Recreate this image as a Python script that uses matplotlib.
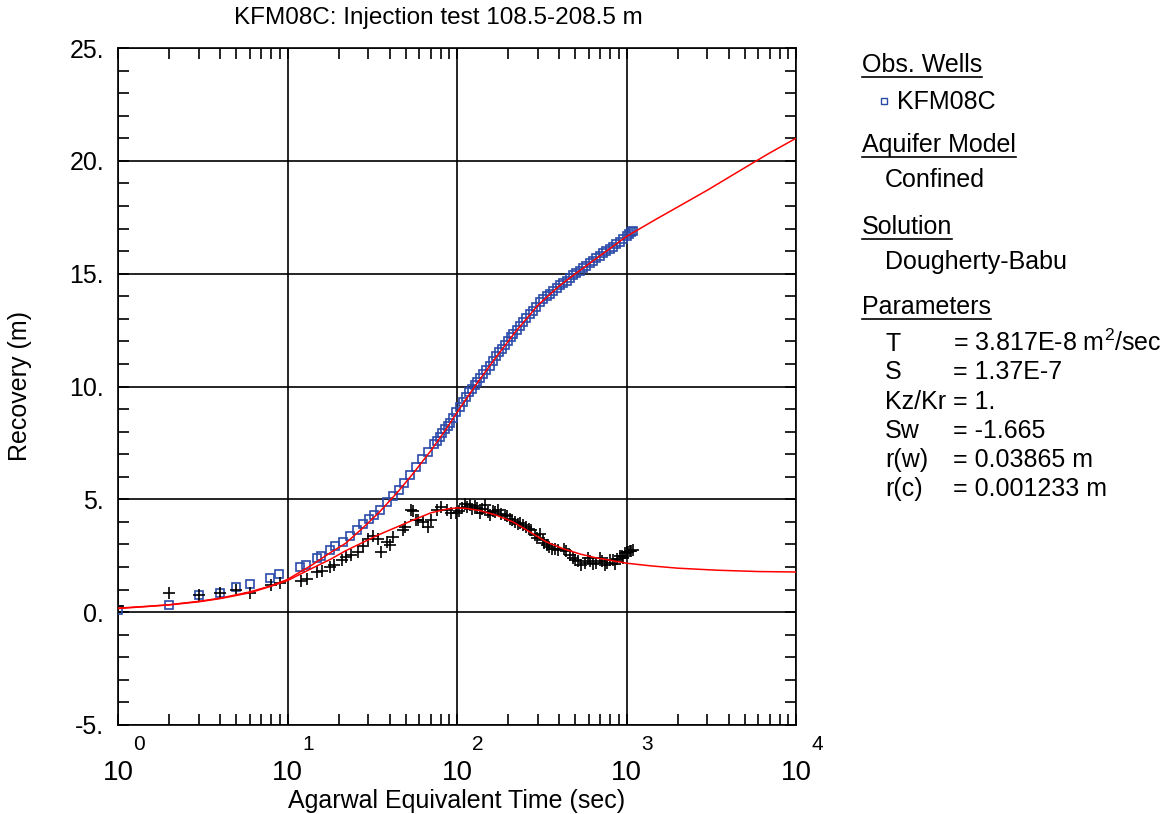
import numpy as np
import matplotlib
matplotlib.use("Agg")
import matplotlib.pyplot as plt
from matplotlib.ticker import FixedLocator, FixedFormatter, LogLocator, MultipleLocator, NullFormatter

plt.rcParams['font.family'] = ['Liberation Sans', 'DejaVu Sans']
plt.rcParams['mathtext.fontset'] = 'custom'
plt.rcParams['mathtext.rm'] = 'Liberation Sans'
plt.rcParams['mathtext.it'] = 'Liberation Sans:italic'
plt.rcParams['mathtext.bf'] = 'Liberation Sans:bold'

# ---------------- data ----------------
title = "KFM08C: Injection test 108.5-208.5 m"
x_label = "Agarwal Equivalent Time (sec)"
y_label = "Recovery (m)"

# observed recovery (blue squares)
t_rec = [1.0, 2.0, 3.0, 4.0, 5.0, 6.0, 7.9, 8.9, 11.9, 12.8, 15.0, 15.8, 17.8, 19.1, 21.3, 23.3,
         25.8, 28.0, 30.4, 32.4, 35.0, 38.8, 42.0, 45.5, 49.0, 53.0, 57.5, 62.5, 67.7, 73.0, 76,
         79, 82, 85, 88, 91, 95, 99, 104, 108, 113, 118, 122, 127, 132, 137, 143, 149, 156, 164,
         171, 178, 184, 191, 199, 207, 215, 225, 236, 246, 257, 268, 280, 293, 308, 322, 338, 353,
         370, 387, 405, 424, 443, 463, 485, 507, 530, 555, 580, 607, 635, 664, 695, 727, 760, 795,
         832, 870, 910, 952, 1000, 1040, 1070, 1090]
rec = [0.1, 0.3, 0.74, 0.87, 1.1, 1.27, 1.52, 1.67, 2.0, 2.1, 2.39, 2.5, 2.77, 2.92, 3.13, 3.39,
       3.64, 3.9, 4.13, 4.3, 4.54, 4.88, 5.15, 5.43, 5.72, 6.06, 6.43, 6.77, 7.1, 7.45, 7.6,
       7.78, 7.95, 8.1, 8.25, 8.4, 8.62, 8.85, 9.1, 9.3, 9.55, 9.75, 9.9, 10.05, 10.22, 10.38, 10.56,
       10.74, 10.93, 11.15, 11.33, 11.52, 11.68, 11.85, 12.0, 12.18, 12.33, 12.5, 12.7, 12.87, 13.03,
       13.2, 13.36, 13.53, 13.73, 13.86, 14.0, 14.12, 14.25, 14.37, 14.48, 14.58, 14.69, 14.8, 14.92,
       15.03, 15.13, 15.25, 15.35, 15.47, 15.58, 15.68, 15.79, 15.9, 16.0, 16.1, 16.2, 16.31, 16.42,
       16.55, 16.68, 16.77, 16.84, 16.9]

# derivative (black plus)
t_der = [1.0, 2.0, 3.0, 4.0, 5.0, 6.0, 8.0, 9.0, 12, 13, 15, 15.9, 17.9, 18.8, 21, 22, 23.6, 26, 28,
         29.9, 31.8, 34.3, 35.4, 38.8, 40.2, 42, 48, 49.2, 53.5, 55, 57, 59, 63, 67.5, 70.5, 76, 81,
         87, 92.6, 98, 103, 107, 111, 115, 119, 123, 127, 132, 137, 141, 146, 152, 157, 162, 167, 175,
         183, 191, 198, 205, 212, 220, 230, 235, 245, 257, 265, 275, 288, 298, 308, 320, 328, 338, 350,
         362, 380, 397, 425, 440, 463, 484, 500, 520, 542, 570, 594, 610, 636, 660, 696, 720, 745, 770,
         797, 830, 854, 880, 915, 940, 958, 980, 1000, 1020, 1050, 1070, 1090]
der = [0.27, 0.83, 0.77, 0.85, 0.97, 0.87, 1.22, 1.3, 1.4, 1.45, 1.78, 1.83, 2.0, 2.08, 2.33, 2.45,
       2.52, 2.67, 2.95, 3.26, 3.36, 3.26, 2.67, 3.11, 2.96, 3.33, 3.62, 3.77, 4.51, 4.48, 4.07, 4.07,
       4.0, 3.77, 4.07, 4.51, 4.68, 4.54, 4.4, 4.39, 4.48, 4.6, 4.81, 4.65, 4.73, 4.55, 4.69, 4.6,
       4.39, 4.55, 4.73, 4.45, 4.29, 4.5, 4.44, 4.54, 4.35, 4.29, 4.25, 4.15, 4.1, 4.0, 3.9, 3.95,
       3.85, 3.77, 3.7, 3.63, 3.41, 3.3, 3.45, 3.2, 3.05, 2.96, 2.9, 2.82, 2.8, 2.74, 2.82, 2.7, 2.52,
       2.38, 2.3, 2.25, 2.08, 2.2, 2.38, 2.25, 2.15, 2.2, 2.38, 2.25, 2.08, 2.2, 2.3, 2.3, 2.15, 2.35,
       2.48, 2.5, 2.38, 2.6, 2.67, 2.65, 2.71, 2.72, 2.74]

# fitted model (red lines)
t_mod = [1, 1.5, 2, 3, 4, 5, 6, 8, 10, 14, 18, 22, 28, 35, 45, 55, 70, 87, 100, 130, 170, 220,
         300, 400, 500, 700, 1000, 1500, 2000, 3000, 5000, 7000, 10000]
mod_rec = [0.18, 0.26, 0.33, 0.48, 0.62, 0.77, 0.9, 1.17, 1.45, 2.1, 2.65, 3.05, 3.75, 4.45, 5.35,
           6.14, 7.15, 8.15, 8.85, 10.1, 11.3, 12.4, 13.6, 14.45, 15.0, 15.8, 16.65, 17.42, 17.95,
           18.7, 19.7, 20.35, 21.0]
t_mder = [1, 2, 3, 4, 6, 8, 10, 14, 18, 22, 28, 35, 45, 55, 70, 87, 100, 113, 137, 170, 214, 270,
          337, 420, 530, 650, 830, 1000, 1400, 2000, 3400, 6000, 10000]
mod_der = [0.16, 0.32, 0.46, 0.6, 0.86, 1.15, 1.4, 1.95, 2.35, 2.72, 3.1, 3.45, 3.8, 4.08, 4.4,
           4.57, 4.62, 4.6, 4.5, 4.3, 4.0, 3.55, 3.11, 2.82, 2.58, 2.42, 2.28, 2.17, 2.05, 1.95,
           1.86, 1.8, 1.78]

y_ticks = [-5, 0, 5, 10, 15, 20, 25]
x_ticks = [1, 10, 100, 1000, 10000]
x_tick_exponents = ["0", "1", "2", "3", "4"]

legend_headers = ["Obs. Wells", "Aquifer Model", "Solution", "Parameters"]
well_name = "KFM08C"
model_name = "Confined"
solution_name = "Dougherty-Babu"
param_names = ["T", "S", "Kz/Kr", "Sw", "r(w)", "r(c)"]
param_values = [r"= 3.817E-8 m$^{\mathregular{2}}$/sec", "= 1.37E-7", "= 1.", "= -1.665",
                "= 0.03865 m", "= 0.001233 m"]

# ---------------- figure ----------------
W, H = 1173, 814
fig = plt.figure(figsize=(W / 100, H / 100), dpi=100)
ax = fig.add_axes([118 / W, 1 - 725 / H, (796 - 118) / W, (725 - 48) / H])


def fx(px):
    return px / W


def fy(py):
    return 1 - py / H


blue = '#2a4aa8'
ax.plot(t_mod, mod_rec, color='#ff0000', lw=1.1, zorder=4)
ax.plot(t_mder, mod_der, color='#ff0000', lw=1.1, zorder=4)
ax.plot(t_rec, rec, ls='none', marker='s', ms=6, mfc='none', mec=blue, mew=1.2, zorder=3)
ax.plot(t_der, der, ls='none', marker='+', ms=8.5, color='black', mew=1.2, zorder=3)

ax.set_xscale('log')
ax.set_xlim(1, 10000)
ax.set_ylim(-5, 25)
ax.xaxis.set_major_locator(FixedLocator(x_ticks))
ax.xaxis.set_major_formatter(NullFormatter())
ax.xaxis.set_minor_locator(LogLocator(base=10, subs=np.arange(2, 10)))
ax.xaxis.set_minor_formatter(NullFormatter())
ax.yaxis.set_major_locator(FixedLocator(y_ticks))
ax.yaxis.set_major_formatter(FixedFormatter([f"{v}." for v in y_ticks]))
ax.yaxis.set_minor_locator(MultipleLocator(1))

ax.grid(True, which='major', color='black', lw=1.2)
for s in ax.spines.values():
    s.set_linewidth(1.2)
ax.tick_params(which='both', direction='in', top=True, right=True, width=1.2, colors='black')
ax.tick_params(which='major', length=8)
ax.tick_params(which='minor', length=8)
ax.tick_params(axis='y', labelsize=18, pad=10)

# x tick labels as base "10" with raised exponent
fig.canvas.draw()
for t, e in zip(x_ticks, x_tick_exponents):
    xpix = ax.transData.transform((t, 0))[0]
    fig.text(fx(xpix), fy(780), "10", fontsize=20, ha='center', va='baseline')
    fig.text(fx(xpix + 15), fy(750), e, fontsize=15, ha='left', va='baseline')

fig.text(fx(457), fy(801), x_label, fontsize=18, ha='center', va='center')
fig.text(fx(20), fy(386), y_label, fontsize=18, ha='center', va='center', rotation=90)
fig.text(fx(438), fy(18), title, fontsize=17.5, ha='center', va='center')

# ---------------- legend panel ----------------
hx, ix, ex = 862, 885, 953
header_y = [72, 152, 234, 314]
header_texts = []
for txt, by in zip(legend_headers, header_y):
    header_texts.append(fig.text(fx(hx), fy(by), txt, fontsize=18, va='baseline', ha='left'))

fig.text(fx(897), fy(109), well_name, fontsize=18, va='baseline', ha='left')
fig.add_artist(plt.Line2D([fx(884)], [fy(101)], marker='s', ms=4, mfc='none', mec=blue, mew=1.0,
                          transform=fig.transFigure))
fig.text(fx(ix), fy(187), model_name, fontsize=18, va='baseline', ha='left')
fig.text(fx(ix), fy(269), solution_name, fontsize=18, va='baseline', ha='left')

param_y = [351, 379, 409, 438, 467, 496]
for name, val, by in zip(param_names, param_values, param_y):
    fig.text(fx(ix), fy(by), name, fontsize=18, va='baseline', ha='left')
    fig.text(fx(ex), fy(by), val, fontsize=18, va='baseline', ha='left')

fig.canvas.draw()
r = fig.canvas.get_renderer()
for t, by in zip(header_texts, header_y):
    bb = t.get_window_extent(renderer=r)
    fig.add_artist(plt.Line2D([bb.x0 / W, bb.x1 / W], [fy(by + 5), fy(by + 5)],
                              color='black', lw=1.2, transform=fig.transFigure))

fig.savefig("out.png", dpi=100)
